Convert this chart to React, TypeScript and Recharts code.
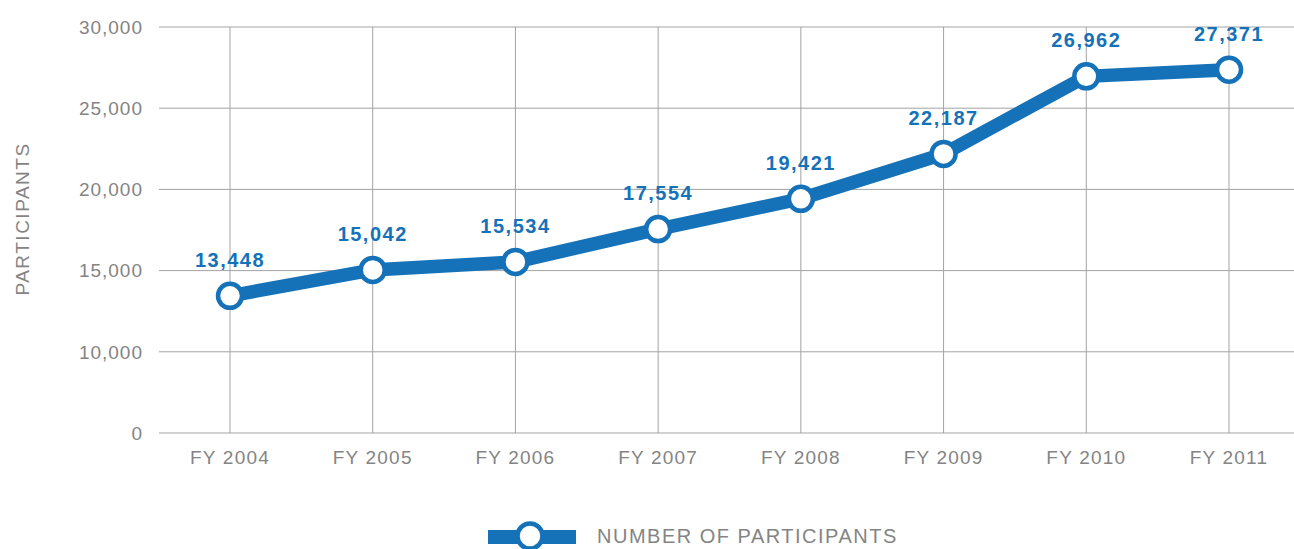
import { LineChart, Line, XAxis, YAxis, CartesianGrid, Legend, LabelList, ReferenceLine } from 'recharts';

const years = ['FY 2004', 'FY 2005', 'FY 2006', 'FY 2007', 'FY 2008', 'FY 2009', 'FY 2010', 'FY 2011'];
const participants = [13448, 15042, 15534, 17554, 19421, 22187, 26962, 27371];

// the original uses a broken axis: the bottom gridline is labelled 0 but sits one step below 10,000
const yTicks = [5000, 10000, 15000, 20000, 25000, 30000];
const yTickLabels = ['0', '10,000', '15,000', '20,000', '25,000', '30,000'];

const data = years.map((year, i) => ({ year, participants: participants[i] }));

const BLUE = '#1572b9';
const GREY = '#848484';
const GRID = '#a3a3a3';
const FONT = '"Liberation Sans", Arial, Helvetica, sans-serif';

function ParticipantsLegend() {
  return (
    <svg width={1300} height={44} style={{ overflow: 'visible', display: 'block' }}>
      <rect x={488} y={25} width={88} height={14} fill={BLUE} />
      <circle cx={530} cy={31} r={12.5} fill="#fff" stroke={BLUE} strokeWidth={4.5} />
      <text
        x={597}
        y={31}
        dominantBaseline="central"
        fill={GREY}
        fontSize={20}
        fontFamily={FONT}
        letterSpacing={1.5}
      >
        NUMBER OF PARTICIPANTS
      </text>
    </svg>
  );
}

function YLabel(props: any) {
  const vb = props.viewBox || { x: 0, y: 0, height: 0 };
  const x = vb.x + 22;
  const y = vb.y + vb.height / 2 - 11;
  return (
    <text
      x={x}
      y={y}
      transform={`rotate(-90, ${x}, ${y})`}
      textAnchor="middle"
      dominantBaseline="central"
      fill={GREY}
      fontSize={19}
      fontFamily={FONT}
      letterSpacing={1.5}
    >
      PARTICIPANTS
    </text>
  );
}

export default function App() {
  return (
    <div
      style={{
        position: 'absolute',
        top: 0,
        left: 0,
        width: 1294,
        height: 549,
        overflow: 'hidden',
        background: '#fff',
        fontFamily: FONT,
      }}
    >
      <LineChart width={1300} height={549} data={data} margin={{ top: 27, right: 0, left: 0, bottom: 0 }}>
        <CartesianGrid stroke={GRID} strokeWidth={1} vertical={false} />
        {years.map((y) => (
          <ReferenceLine key={y} x={y} stroke={GRID} strokeWidth={1} />
        ))}
        <XAxis
          dataKey="year"
          height={72}
          padding={{ left: 71, right: 71 }}
          axisLine={false}
          tickLine={false}
          tickSize={0}
          tickMargin={18}
          tick={{ fill: GREY, fontSize: 19, fontFamily: FONT, letterSpacing: 1.2 }}
        />
        <YAxis
          width={159}
          domain={[5000, 30000]}
          ticks={yTicks}
          axisLine={false}
          tickLine={false}
          tickSize={0}
          tickMargin={16}
          tickFormatter={(v: number) => yTickLabels[yTicks.indexOf(v)] ?? String(v)}
          tick={{ fill: GREY, fontSize: 19, fontFamily: FONT, letterSpacing: 1 }}
          label={<YLabel />}
        />
        <Legend verticalAlign="bottom" content={() => <ParticipantsLegend />} />
        <Line
          type="linear"
          dataKey="participants"
          stroke={BLUE}
          strokeWidth={13.5}
          dot={{ r: 12, fill: '#fff', stroke: BLUE, strokeWidth: 4.5 }}
          activeDot={false}
          isAnimationActive={false}
        >
          <LabelList
            dataKey="participants"
            position="top"
            offset={29}
            formatter={(v: any) => Number(v).toLocaleString('en-US')}
            fill={BLUE}
            fontSize={20}
            fontWeight="bold"
            fontFamily={FONT}
            letterSpacing={1.5}
          />
        </Line>
      </LineChart>
    </div>
  );
}
